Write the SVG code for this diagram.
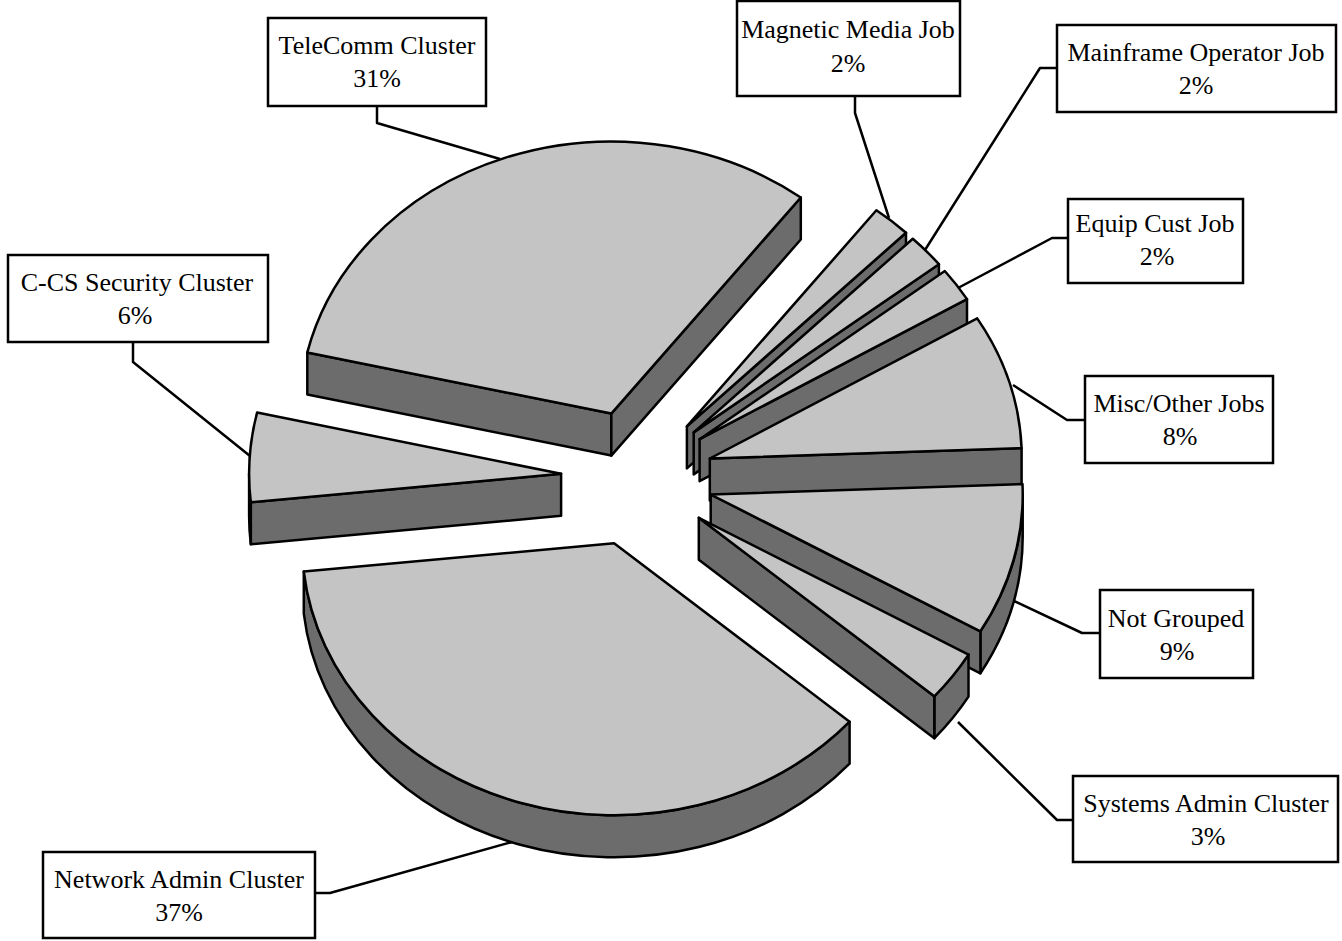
<svg xmlns="http://www.w3.org/2000/svg" width="1342" height="941" viewBox="0 0 1342 941">
<style>
.top{fill:#c4c4c4;stroke:#000;stroke-width:2.5;stroke-linejoin:round}
.side{fill:#6c6c6c;stroke:#000;stroke-width:2.5;stroke-linejoin:round}
.box{fill:#fff;stroke:#000;stroke-width:2.5}
.lbl{font-family:"Liberation Serif","Times New Roman",serif;font-size:26px;text-anchor:middle;fill:#000}
.leader{fill:none;stroke:#000;stroke-width:2.5;stroke-linejoin:round}
</style>
<rect width="1342" height="941" fill="#fff"/>
<g id="connectors">
<polyline class="leader" points="377,106 377,123 500,159"/>
<polyline class="leader" points="133,342 133,362 250,456"/>
<polyline class="leader" points="855,96 855,113 889,218"/>
<polyline class="leader" points="1057,68 1040,68 925,250"/>
<polyline class="leader" points="1068,238 1052,238 958,288"/>
<polyline class="leader" points="1085,420 1067,420 1013,385"/>
<polyline class="leader" points="1100,633 1082,633 1012,600"/>
<polyline class="leader" points="1073,820 1057,820 958,722"/>
<polyline class="leader" points="313,893 330,893 512,842"/>
</g>
<g id="telecomm">
<path class="side" d="M611.3,413.6 L307.3,352.4 L307.3,394.4 L611.3,455.6 Z"/>
<path class="side" d="M611.3,413.6 L800.8,197.5 L800.8,239.5 L611.3,455.6 Z"/>
<path class="top" d="M611.3,413.6 L307.3,352.4 A312,272 0 0 1 800.8,197.5 Z"/>
<rect class="box" x="268" y="18" width="218" height="88"/>
<text class="lbl" x="377" y="54">TeleComm Cluster</text>
<text class="lbl" x="377" y="87">31%</text>
</g>
<g id="ccs-security">
<path class="side" d="M561.1,473.8 L250.8,502.2 L250.8,544.2 L561.1,515.8 Z"/>
<path class="side" d="M250.8,502.2 A312,272 0 0 1 249.1,473.8 L249.1,515.8 A312,272 0 0 0 250.8,544.2 Z"/>
<path class="top" d="M561.1,473.8 L250.8,502.2 A312,272 0 0 1 257.1,412.6 Z"/>
<rect class="box" x="8" y="255" width="260" height="87"/>
<text class="lbl" x="137" y="291">C-CS Security Cluster</text>
<text class="lbl" x="135" y="324">6%</text>
</g>
<g id="magnetic-media">
<path class="side" d="M686.9,426.4 L906,232.7 L906,274.7 L686.9,468.4 Z"/>
<path class="top" d="M686.9,426.4 L876.4,210.3 A312,272 0 0 1 906,232.7 Z"/>
<rect class="box" x="737" y="1" width="223" height="95"/>
<text class="lbl" x="848" y="38">Magnetic Media Job</text>
<text class="lbl" x="848" y="72">2%</text>
</g>
<g id="mainframe-operator">
<path class="side" d="M693.7,432.4 L938.9,264.2 L938.9,306.2 L693.7,474.4 Z"/>
<path class="top" d="M693.7,432.4 L912.8,238.7 A312,272 0 0 1 938.9,264.2 Z"/>
<rect class="box" x="1057" y="25" width="279" height="87"/>
<text class="lbl" x="1196" y="61">Mainframe Operator Job</text>
<text class="lbl" x="1196" y="94">2%</text>
</g>
<g id="equip-cust">
<path class="side" d="M699.6,439.2 L967,299.1 L967,341.1 L699.6,481.2 Z"/>
<path class="top" d="M699.6,439.2 L944.8,271 A312,272 0 0 1 967,299.1 Z"/>
<rect class="box" x="1068" y="199" width="175" height="84"/>
<text class="lbl" x="1155" y="232">Equip Cust Job</text>
<text class="lbl" x="1157" y="265">2%</text>
</g>
<g id="misc-other">
<path class="side" d="M709.8,458.5 L1021.6,448.1 L1021.6,490.1 L709.8,500.5 Z"/>
<path class="top" d="M709.8,458.5 L977.2,318.4 A312,272 0 0 1 1021.6,448.1 Z"/>
<rect class="box" x="1085" y="376" width="188" height="87"/>
<text class="lbl" x="1179" y="412">Misc/Other Jobs</text>
<text class="lbl" x="1180" y="445">8%</text>
</g>
<g id="not-grouped">
<path class="side" d="M1022.7,494.5 A312,272 0 0 1 980.4,631.3 L980.4,673.3 A312,272 0 0 0 1022.7,536.5 Z"/>
<path class="side" d="M710.7,494.5 L980.4,631.3 L980.4,673.3 L710.7,536.5 Z"/>
<path class="top" d="M710.7,494.5 L1022.5,484.1 A312,272 0 0 1 980.4,631.3 Z"/>
<rect class="box" x="1100" y="590" width="153" height="88"/>
<text class="lbl" x="1176" y="627">Not Grouped</text>
<text class="lbl" x="1177" y="660">9%</text>
</g>
<g id="systems-admin">
<path class="side" d="M968.5,654.6 A312,272 0 0 1 934.3,696.3 L934.3,738.3 A312,272 0 0 0 968.5,696.6 Z"/>
<path class="side" d="M698.8,517.8 L934.3,696.3 L934.3,738.3 L698.8,559.8 Z"/>
<path class="top" d="M698.8,517.8 L968.5,654.6 A312,272 0 0 1 934.3,696.3 Z"/>
<rect class="box" x="1073" y="776" width="265" height="86"/>
<text class="lbl" x="1206" y="812">Systems Admin Cluster</text>
<text class="lbl" x="1208" y="845">3%</text>
</g>
<g id="network-admin">
<path class="side" d="M849.6,721.7 A312,272 0 0 1 303.8,571.6 L303.8,613.6 A312,272 0 0 0 849.6,763.7 Z"/>
<path class="top" d="M614.1,543.2 L849.6,721.7 A312,272 0 0 1 303.8,571.6 Z"/>
<rect class="box" x="43" y="852" width="272" height="86"/>
<text class="lbl" x="179" y="888">Network Admin Cluster</text>
<text class="lbl" x="179" y="921">37%</text>
</g>
</svg>
